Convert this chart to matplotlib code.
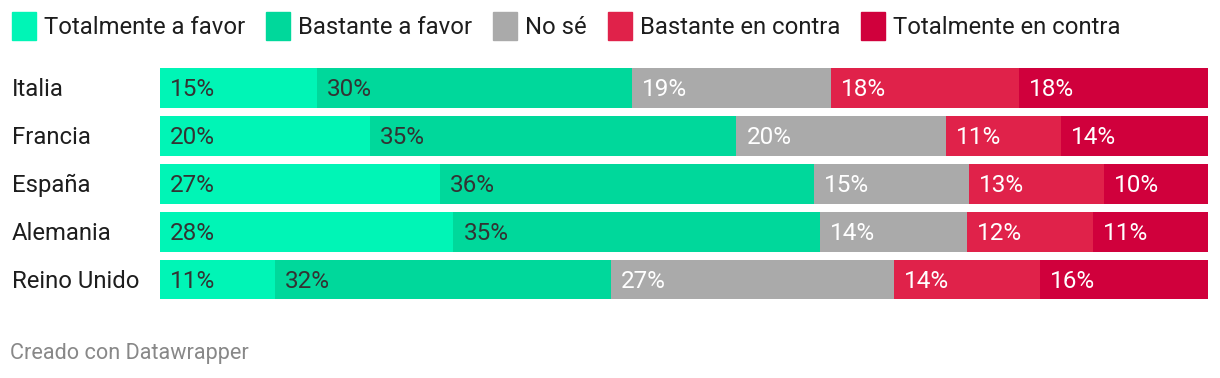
import matplotlib
matplotlib.use("Agg")
import matplotlib.pyplot as plt
from matplotlib.patches import Rectangle

plt.rcParams["font.family"] = ["Roboto", "DejaVu Sans"]

# -- data
countries = ["Italia", "Francia", "España", "Alemania", "Reino Unido"]
categories = ["Totalmente a favor", "Bastante a favor", "No sé",
              "Bastante en contra", "Totalmente en contra"]
tot_favor = [15, 20, 27, 28, 11]
bas_favor = [30, 35, 36, 35, 32]
no_se = [19, 20, 15, 14, 27]
bas_contra = [18, 11, 13, 12, 14]
tot_contra = [18, 14, 10, 11, 16]

series = [tot_favor, bas_favor, no_se, bas_contra, tot_contra]
colours = ["#00f5b6", "#00d89b", "#aaaaaa", "#e0224a", "#d0003c"]
text_colours = ["#333333", "#333333", "white", "white", "white"]

W, H = 1220, 378
fig = plt.figure(figsize=(W / 100, H / 100), dpi=100)

# -- bars
ax = fig.add_axes([160 / W, 1 - 303.5 / H, 1048 / W, 240 / H])
ax.set_xlim(0, 100)
ax.set_ylim(len(countries) - 0.5, -0.5)
ax.axis("off")

for i, name in enumerate(countries):
    total = sum(s[i] for s in series)
    left = 0.0
    for s, c, tc in zip(series, colours, text_colours):
        w = s[i] * 100.0 / total
        ax.barh(i, w, left=left, height=40 / 48, color=c, linewidth=0)
        ax.annotate("%d%%" % s[i], (left, i), xytext=(10, -2),
                    textcoords="offset pixels", va="center", ha="left",
                    color=tc, fontsize=17.5)
        left += w
    fig.text(12 / W, 1 - (89.5 + 48 * i) / H, name, va="center", ha="left",
             fontsize=17.2, color="#1d1d1d")

# -- legend
fig.canvas.draw()
rend = fig.canvas.get_renderer()
x = 12
yc = 1 - 28 / H
for lab, c in zip(categories, colours):
    fig.patches.append(Rectangle((x / W, 1 - 40 / H), 24 / W, 28 / H,
                                 transform=fig.transFigure, color=c))
    t = fig.text((x + 32) / W, yc, lab, va="center", ha="left",
                 fontsize=17.2, color="#1d1d1d")
    x += 32 + t.get_window_extent(rend).width + 21

fig.text(10 / W, 1 - 354 / H, "Creado con Datawrapper", va="center",
         ha="left", fontsize=15.6, color="#888888")

fig.savefig("out.png", dpi=100)
